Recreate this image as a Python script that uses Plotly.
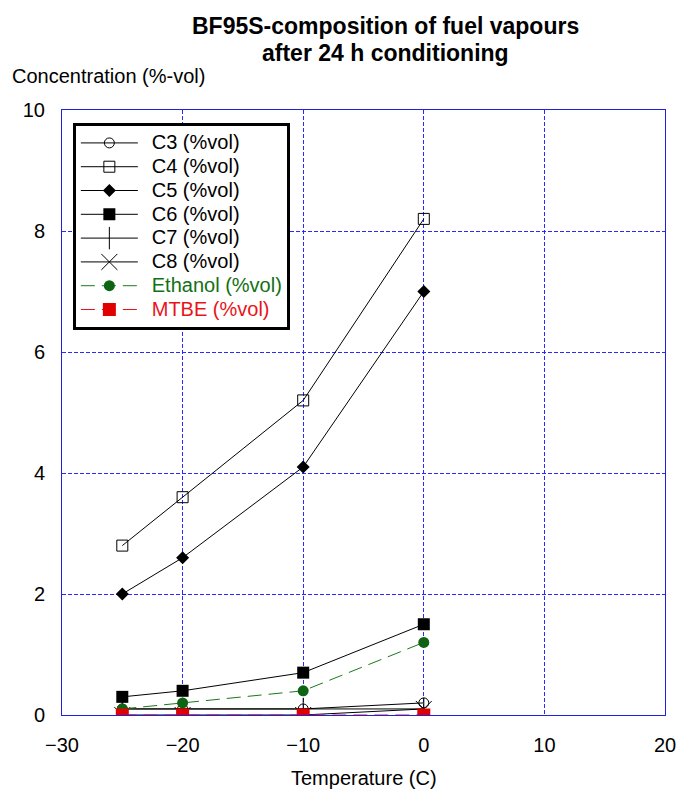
import plotly.graph_objects as go

# Temperatures (C) and vapour concentrations (%-vol)
temperature = [-25, -20, -10, 0]
c3 = [0.1, 0.1, 0.1, 0.2]
c4 = [2.8, 3.6, 5.2, 8.2]
c5 = [2.0, 2.6, 4.1, 7.0]
c6 = [0.3, 0.4, 0.7, 1.5]
c7 = [0.1, 0.1, 0.1, 0.1]
c8 = [0.0, 0.0, 0.0, 0.1]
ethanol = [0.1, 0.2, 0.4, 1.2]
mtbe = [0.0, 0.0, 0.0, 0.0]

x_ticks = [-30, -20, -10, 0, 10, 20]
y_ticks = [0, 2, 4, 6, 8, 10]

FONT = "Liberation Sans, Arial, sans-serif"
GREEN_TXT = "#137013"
RED_TXT = "#e8141a"
LONG_DASH = "14px,7px"


def legend_label(text, color="black"):
    # legend rows are spaced by the (smaller) legend font; the label itself is drawn at 20px
    return f"&nbsp;&nbsp;<span style='font-size:20px;color:{color}'>{text}</span>"


series = [
    ("C3 (%vol)", "black", c3, "black", "solid", dict(symbol="circle-open", size=10, color="black", line=dict(width=1))),
    ("C4 (%vol)", "black", c4, "black", "solid", dict(symbol="square-open", size=11, color="black", line=dict(width=1))),
    ("C5 (%vol)", "black", c5, "black", "solid", dict(symbol="diamond", size=10, color="black")),
    ("C6 (%vol)", "black", c6, "black", "solid", dict(symbol="square", size=12, color="black")),
    ("C7 (%vol)", "black", c7, "black", "solid", dict(symbol="line-ns-open", size=16, color="black", line=dict(width=1))),
    ("C8 (%vol)", "black", c8, "black", "solid", dict(symbol="x-thin-open", size=16, color="black", line=dict(width=1))),
    ("Ethanol (%vol)", GREEN_TXT, ethanol, "#1a7a1a", LONG_DASH, dict(symbol="circle", size=11, color="#0f6414")),
    ("MTBE (%vol)", RED_TXT, mtbe, "#e8141a", LONG_DASH, dict(symbol="square", size=13, color="#e00000")),
]

fig = go.Figure()
for name, txt_color, vals, lc, dash, marker in series:
    fig.add_trace(go.Scatter(
        x=temperature, y=vals, name=legend_label(name, txt_color), mode="lines+markers",
        line=dict(color=lc, width=1, dash=dash), marker=marker,
    ))

axis_style = dict(showgrid=True, gridcolor="#2a2aff", griddash="4px,2px", gridwidth=1,
                  showline=True, linecolor="#2020e0", linewidth=1, mirror=True,
                  ticks="", automargin=False, zeroline=False,
                  tickfont=dict(family=FONT, size=20, color="black"))

fig.update_layout(
    width=678, height=789,
    margin=dict(l=62, r=13, t=110, b=74),
    paper_bgcolor="white", plot_bgcolor="white",
    xaxis=dict(range=[-30, 20], tickvals=x_ticks, ticklabelstandoff=12, **axis_style),
    yaxis=dict(range=[0, 10], tickvals=y_ticks, ticklabelstandoff=12, **axis_style),
    legend=dict(x=0.018, y=0.9785, xanchor="left", yanchor="top",
                bgcolor="white", bordercolor="black", borderwidth=3,
                font=dict(family=FONT, size=16, color="black"),
                itemwidth=57, tracegroupgap=0),
    showlegend=True,
)

# Two-line bold title
fig.add_annotation(text="<b>BF95S-composition of fuel vapours</b>", x=0.537, y=1.139,
                   xref="paper", yref="paper", xanchor="center", yanchor="middle",
                   showarrow=False, font=dict(family=FONT, size=23, color="black"))
fig.add_annotation(text="<b>after 24 h conditioning</b>", x=0.537, y=1.094,
                   xref="paper", yref="paper", xanchor="center", yanchor="middle",
                   showarrow=False, font=dict(family=FONT, size=23, color="black"))

# Axis titles
fig.add_annotation(text="Concentration (%-vol)", x=-0.0862, y=1.056, xref="paper", yref="paper",
                   xanchor="left", yanchor="middle", showarrow=False,
                   font=dict(family=FONT, size=20, color="black"))
fig.add_annotation(text="Temperature (C)", x=0.5, y=-0.104, xref="paper", yref="paper",
                   xanchor="center", yanchor="middle", showarrow=False,
                   font=dict(family=FONT, size=20, color="black"))

fig.write_html("out.html")
